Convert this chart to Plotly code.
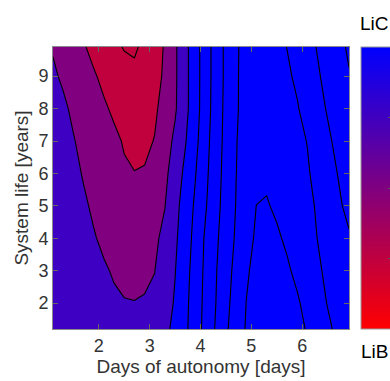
import plotly.graph_objects as go

# Days of autonomy (x) and system life (y) grid
days = [1.1, 1.3, 1.5, 1.7, 1.9, 2.1, 2.3, 2.5, 2.7, 2.9, 3.1, 3.3, 3.5, 3.7, 3.9,
        4.1, 4.3, 4.5, 4.7, 4.9, 5.1, 5.3, 5.5, 5.7, 5.9, 6.1, 6.3, 6.5, 6.7, 6.92]
years = [1.2, 2, 3, 4, 5, 6, 7, 8, 9, 9.9]

# preference index (low = LiB, high = LiC), one list per system-life row
pref_y1_2 = [3.45, 3.35, 3.26, 3.16, 3.06, 2.97, 2.87, 2.77, 2.75, 2.95, 3.15, 3.35, 3.66, 4.31, 5.04,
             5.81, 6.58, 7.35, 8.02, 8.57, 8.83, 9.10, 9.24, 8.98, 8.72, 8.44, 8.06, 7.67, 7.30, 6.90]
pref_y2 = [3.40, 3.26, 3.13, 2.99, 2.85, 2.71, 2.58, 2.53, 2.52, 2.55, 2.61, 3.09, 3.59, 4.26, 5.00,
           5.76, 6.49, 7.24, 7.91, 8.51, 8.79, 9.06, 9.08, 8.84, 8.60, 8.26, 7.85, 7.46, 7.17, 6.85]
pref_y3 = [3.30, 3.15, 3.00, 2.86, 2.71, 2.56, 2.45, 2.35, 2.26, 2.37, 2.49, 2.96, 3.47, 4.16, 4.92,
           5.71, 6.43, 7.12, 7.78, 8.41, 8.70, 8.94, 8.83, 8.61, 8.33, 7.98, 7.63, 7.33, 7.05, 6.75]
pref_y4 = [3.20, 3.04, 2.87, 2.71, 2.54, 2.40, 2.27, 2.13, 2.00, 2.19, 2.37, 2.69, 3.34, 4.04, 4.80,
           5.64, 6.33, 6.98, 7.62, 8.23, 8.61, 8.80, 8.61, 8.38, 8.09, 7.79, 7.49, 7.21, 6.92, 6.60]
pref_y5 = [3.10, 2.93, 2.75, 2.58, 2.42, 2.26, 2.11, 1.96, 1.81, 1.96, 2.22, 2.48, 3.20, 3.93, 4.65,
           5.42, 6.19, 6.89, 7.53, 8.03, 8.51, 8.56, 8.38, 8.15, 7.92, 7.68, 7.42, 7.04, 6.67, 6.25]
pref_y6 = [3.00, 2.82, 2.64, 2.46, 2.24, 2.02, 1.80, 1.59, 1.52, 1.55, 2.04, 2.30, 2.95, 3.72, 4.46,
           5.29, 6.10, 6.83, 7.49, 7.84, 8.17, 8.37, 8.17, 7.98, 7.78, 7.58, 7.27, 6.87, 6.48, 6.05]
pref_y7 = [2.90, 2.72, 2.54, 2.32, 2.10, 1.87, 1.65, 1.44, 1.27, 1.35, 1.53, 2.08, 2.69, 3.43, 4.25,
           5.17, 6.02, 6.78, 7.47, 7.78, 8.08, 8.25, 8.06, 7.87, 7.68, 7.48, 7.07, 6.66, 6.27, 5.85]
pref_y8 = [2.85, 2.62, 2.38, 2.12, 1.86, 1.60, 1.38, 1.17, 0.97, 1.15, 1.38, 1.79, 2.39, 3.23, 4.11,
           5.05, 5.96, 6.74, 7.43, 7.74, 8.00, 8.15, 7.95, 7.76, 7.56, 7.21, 6.81, 6.42, 6.08, 5.70]
pref_y9 = [2.60, 2.40, 2.13, 1.85, 1.58, 1.33, 1.11, 0.88, 0.70, 0.98, 1.26, 1.61, 2.35, 3.23, 4.11,
           5.02, 5.92, 6.71, 7.43, 7.73, 7.98, 8.01, 7.81, 7.62, 7.37, 6.98, 6.60, 6.25, 5.92, 5.55]
pref_y9_9 = [2.45, 2.16, 1.87, 1.57, 1.29, 1.00, 0.71, 0.44, 0.38, 0.69, 1.12, 1.58, 2.35, 3.23, 4.11,
             5.02, 5.92, 6.71, 7.43, 7.69, 7.90, 7.90, 7.70, 7.49, 7.15, 6.80, 6.45, 6.10, 5.76, 5.38]

x_ticks = [2, 3, 4, 5, 6]
y_ticks = [2, 3, 4, 5, 6, 7, 8, 9]

z = [pref_y1_2, pref_y2, pref_y3, pref_y4, pref_y5, pref_y6, pref_y7, pref_y8, pref_y9, pref_y9_9]

RED = 'rgb(193,0,62)'
PUR = 'rgb(128,0,128)'
BPU = 'rgb(62,0,195)'
BLU = 'rgb(0,0,255)'
fill_scale = [[0, RED], [0.1667, RED], [0.1667, PUR], [0.2778, PUR],
              [0.2778, BPU], [0.3889, BPU], [0.3889, BLU], [1, BLU]]

fig = go.Figure()
fig.add_trace(go.Contour(
    x=days, y=years, z=z,
    autocontour=False,
    contours=dict(start=0.5, end=8.5, size=1, coloring='fill', showlines=True),
    line=dict(color='black', width=1.1, smoothing=0),
    colorscale=fill_scale, showscale=False, hoverinfo='skip'))

# continuous colour bar (LiB -> LiC)
fig.add_trace(go.Heatmap(
    z=[[0, 1]], x=[50, 51], y=[50],
    colorscale=[[0, 'rgb(255,0,0)'], [1, 'rgb(0,0,255)']],
    zmin=0, zmax=1, showscale=True, hoverinfo='skip',
    colorbar=dict(x=1.0405, xanchor='left', xpad=0, ypad=0, y=0.5, yanchor='middle',
                  len=1, lenmode='fraction', thickness=30,
                  outlinewidth=1, outlinecolor='#9a9a9a',
                  tickvals=[0.25, 0.5, 0.75], ticks='inside', ticklen=3,
                  tickcolor='#555', showticklabels=False)))

axis_font = dict(family='Liberation Sans, Arial, sans-serif', size=18, color='#333')
title_font = dict(family='Liberation Sans, Arial, sans-serif', size=19, color='#333')

fig.update_xaxes(range=[1.1, 6.92], tickvals=x_ticks, ticks='inside', ticklen=5,
                 tickcolor='#666', showline=True, linecolor='#8a8a8a', linewidth=1,
                 mirror='ticks', showgrid=False, zeroline=False, tickfont=axis_font,
                 title=dict(text='Days of autonomy [days]', font=title_font, standoff=5))
fig.update_yaxes(range=[1.2, 9.9], tickvals=y_ticks, ticks='inside', ticklen=5,
                 tickcolor='#666', showline=True, linecolor='#8a8a8a', linewidth=1,
                 mirror='ticks', showgrid=False, zeroline=False, tickfont=axis_font,
                 title=dict(text='System life [years]', font=title_font, standoff=4))

lab_font = dict(family='Liberation Sans, Arial, sans-serif', size=19, color='black')
fig.add_annotation(text='LiC', x=1.0845, y=1.0826, xref='paper', yref='paper',
                   showarrow=False, xanchor='center', yanchor='middle', font=lab_font)
fig.add_annotation(text='LiB', x=1.0845, y=-0.0805, xref='paper', yref='paper',
                   showarrow=False, xanchor='center', yanchor='middle', font=lab_font)

fig.update_layout(width=390, height=381,
                  margin=dict(l=53, r=41, t=47, b=52, autoexpand=False),
                  paper_bgcolor='white', plot_bgcolor='white', showlegend=False)

fig.write_html('out.html')
